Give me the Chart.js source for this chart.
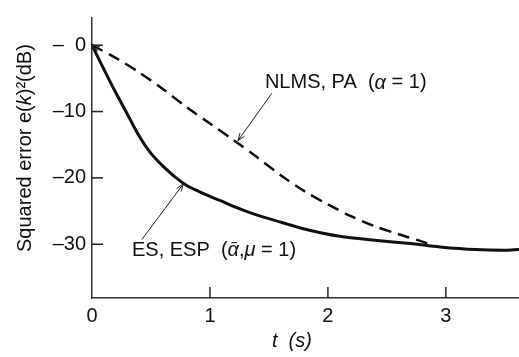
<!DOCTYPE html>
<html lang="en">
  <head>
    <meta charset="UTF-8" />
    <title>Squared error</title>
    <script src="https://cdn.jsdelivr.net/npm/chart.js"></script>
    <style>
      body { margin: 0; background: #fff; }
      .grafico { width: 519px; height: 357px; }
    </style>
  </head>
  <body>
    <div class="grafico">
      <canvas id="myCanvas"></canvas>
    </div>
  </body>
</html>
<script>
  // valores
  const tempoES = [0, 0.1, 0.2, 0.3, 0.35, 0.4, 0.45, 0.5, 0.55, 0.6, 0.7, 0.8, 0.9, 1.0, 1.1, 1.2, 1.35, 1.55, 1.8, 2.1, 2.4, 2.7, 2.95, 3.25, 3.5, 3.62];
  const erroES = [0, -3.6, -7.1, -10.4, -12.1, -13.7, -15.1, -16.3, -17.3, -18.2, -19.8, -21.1, -22.0, -22.8, -23.5, -24.3, -25.3, -26.4, -27.7, -28.8, -29.4, -29.9, -30.4, -30.8, -30.9, -30.8];

  const tempoNLMS = [0, 0.2, 0.4, 0.6, 0.8, 1.0, 1.2, 1.4, 1.6, 1.8, 2.0, 2.2, 2.4, 2.6, 2.8, 2.9];
  const erroNLMS = [0, -1.9, -4.1, -6.6, -9.3, -11.8, -14.3, -16.9, -19.6, -22.0, -24.0, -25.8, -27.3, -28.5, -29.6, -30.3];

  const ticksX = [0, 1, 2, 3];
  const ticksY = [-30, -20, -10, 0];

  const fonte = '"Liberation Sans", Arial, Helvetica, sans-serif';

  function pontos(xs, ys) {
    return xs.map((x, i) => ({ x: x, y: ys[i] }));
  }

  // desenha texto em partes (normal / italico)
  function textoPartes(ctx, partes, x, y, alinhar) {
    let largura = 0;
    partes.forEach(function (p) {
      ctx.font = p[1];
      largura += ctx.measureText(p[0]).width;
    });
    let cx = alinhar === "center" ? x - largura / 2 : x;
    partes.forEach(function (p) {
      ctx.font = p[1];
      ctx.fillText(p[0], cx, y);
      cx += ctx.measureText(p[0]).width;
    });
  }

  function ponta(ctx, x1, y1, x2, y2) {
    const ang = Math.atan2(y2 - y1, x2 - x1);
    ctx.beginPath();
    ctx.moveTo(x2 - 8 * Math.cos(ang - 0.35), y2 - 8 * Math.sin(ang - 0.35));
    ctx.lineTo(x2, y2);
    ctx.lineTo(x2 - 8 * Math.cos(ang + 0.35), y2 - 8 * Math.sin(ang + 0.35));
    ctx.stroke();
  }

  function seta(ctx, x1, y1, x2, y2) {
    ctx.beginPath();
    ctx.moveTo(x1, y1);
    ctx.lineTo(x2, y2);
    ctx.stroke();
    ponta(ctx, x1, y1, x2, y2);
  }

  const anotacoes = {
    id: "anotacoes",
    afterDraw(chart) {
      const ctx = chart.ctx;
      const xs = chart.scales.x;
      const ys = chart.scales.y;
      const px = (t) => xs.getPixelForValue(t);
      const py = (v) => ys.getPixelForValue(v);
      const area = chart.chartArea;

      ctx.save();
      ctx.strokeStyle = "#222";
      ctx.fillStyle = "#111";
      ctx.lineWidth = 1.5;

      // marcas dos eixos (para dentro)
      ticksY.forEach(function (v) {
        ctx.beginPath();
        ctx.moveTo(area.left, py(v));
        ctx.lineTo(area.left + 11, py(v));
        ctx.stroke();
      });
      ticksX.slice(1).forEach(function (t) {
        ctx.beginPath();
        ctx.moveTo(px(t), area.bottom);
        ctx.lineTo(px(t), area.bottom - 11);
        ctx.stroke();
      });

      // setas
      ctx.lineWidth = 1;
      seta(ctx, px(1.525), py(-7.24), px(1.237), py(-14.4));
      seta(ctx, px(0.424), py(-29.25), px(0.775), py(-20.9));
      ctx.lineWidth = 1.5;
      ponta(ctx, px(0.2), py(-1.9), px(0), py(0));

      ctx.textBaseline = "middle";
      const normal = "20px " + fonte;
      const italico = "italic 20px " + fonte;

      textoPartes(ctx, [["NLMS, PA  (", normal], ["\u03b1", italico], [" = 1)", normal]], px(1.466), py(-5.69), "left");
      textoPartes(ctx, [["ES, ESP  (", normal], ["\u03b1\u0304", italico], [",", normal], ["\u03bc", italico], [" = 1)", normal]], px(0.339), py(-31.0), "left");

      // titulo eixo x
      textoPartes(ctx, [["t  (s)", italico]], px(1.695), area.bottom + 43, "center");

      // titulo eixo y
      ctx.translate(area.left - 67, py(-15.5));
      ctx.rotate(-Math.PI / 2);
      textoPartes(ctx, [["Squared error e(", normal], ["k", italico], [")\u00b2(dB)", normal]], 0, 0, "center");
      ctx.restore();
    },
  };

  const dados = {
    datasets: [
      {
        label: "ES, ESP",
        data: pontos(tempoES, erroES),
        borderColor: "#111",
        borderWidth: 3,
        pointRadius: 0,
        tension: 0.3,
        fill: false,
      },
      {
        label: "NLMS, PA",
        data: pontos(tempoNLMS, erroNLMS),
        borderColor: "#111",
        borderWidth: 2.5,
        borderDash: [12, 7],
        pointRadius: 0,
        tension: 0.3,
        fill: false,
      },
    ],
  };

  const config = {
    type: "line",
    data: dados,
    options: {
      responsive: true,
      maintainAspectRatio: false,
      animation: false,
      layout: { padding: { top: 12, right: 0, left: 0, bottom: 0 } },
      plugins: {
        legend: { display: false },
        tooltip: { enabled: false },
      },
      scales: {
        x: {
          type: "linear",
          min: 0,
          max: 3.62,
          afterBuildTicks: (scale) => {
            scale.ticks = ticksX.map((v) => ({ value: v }));
          },
          afterFit: (scale) => {
            scale.height = 59;
          },
          grid: { drawOnChartArea: false, drawTicks: false },
          border: { display: true, color: "#333", width: 1.5 },
          ticks: {
            color: "#111",
            padding: 6,
            maxRotation: 0,
            font: { family: fonte, size: 20 },
          },
        },
        y: {
          type: "linear",
          min: -38.1,
          max: 4.1,
          afterBuildTicks: (scale) => {
            scale.ticks = ticksY.map((v) => ({ value: v }));
          },
          afterFit: (scale) => {
            scale.width = 92;
          },
          grid: { drawOnChartArea: false, drawTicks: false },
          border: { display: true, color: "#333", width: 1.5 },
          ticks: {
            color: "#111",
            padding: 6,
            font: { family: fonte, size: 20 },
            callback: (v) => (v === 0 ? "\u2013\u20070" : "\u2013" + Math.abs(v)),
          },
        },
      },
    },
    plugins: [anotacoes],
  };

  const myChart = new Chart(document.getElementById("myCanvas"), config);
</script>
